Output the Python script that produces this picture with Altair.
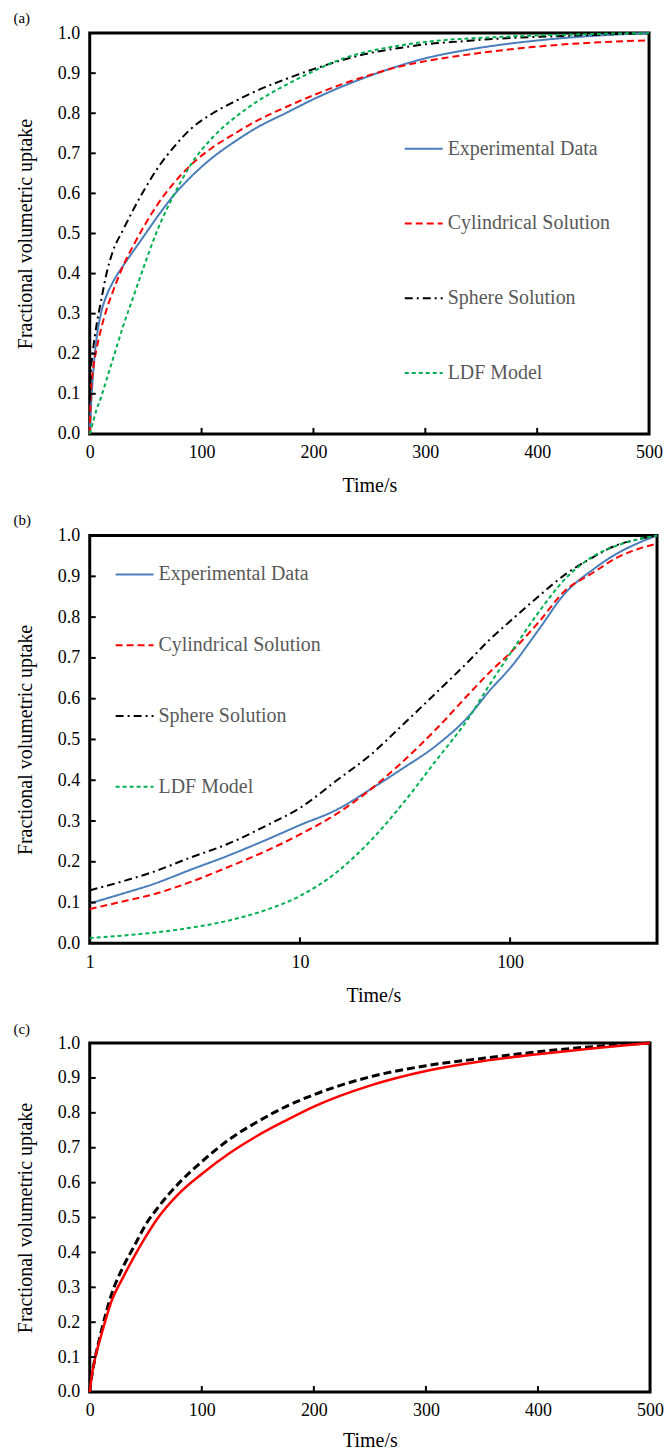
import altair as alt
import pandas as pd

FONT = "Liberation Serif"

SERIES = ["Experimental Data", "Cylindrical Solution", "Sphere Solution", "LDF Model"]
COLORS = ["#4A7EBB", "#FF0000", "#000000", "#00B050"]
DASHES = [[1, 0], [7, 4], [8, 4, 2, 4], [4, 3]]

# ---- panel (a): linear time axis ----
a_time = [0, 1, 3, 6, 10, 15, 20, 30, 40, 50, 60, 75, 90, 110, 130, 150, 175, 200,
          225, 250, 275, 300, 335, 365, 395, 425, 455, 500]
a_exp = [0, 0.06, 0.15, 0.235, 0.30, 0.345, 0.375, 0.42, 0.46, 0.50, 0.54, 0.595, 0.64, 0.69,
         0.73, 0.765, 0.80, 0.835, 0.866, 0.893, 0.917, 0.937, 0.957, 0.97, 0.98, 0.988, 0.994, 1.0]
a_cyl = [0, 0.1, 0.16, 0.21, 0.26, 0.31, 0.35, 0.42, 0.475, 0.525, 0.57, 0.625, 0.67, 0.715,
         0.75, 0.782, 0.815, 0.845, 0.872, 0.895, 0.915, 0.93, 0.945, 0.956, 0.965, 0.972, 0.977, 0.982]
a_sph = [0.08, 0.15, 0.21, 0.27, 0.33, 0.40, 0.45, 0.51, 0.565, 0.615, 0.66, 0.715, 0.76, 0.80,
         0.83, 0.857, 0.885, 0.91, 0.932, 0.95, 0.962, 0.972, 0.98, 0.986, 0.99, 0.993, 0.996, 1.0]
a_ldf = [0, 0.01, 0.03, 0.06, 0.09, 0.135, 0.18, 0.27, 0.35, 0.43, 0.505, 0.595, 0.67, 0.74,
         0.79, 0.83, 0.87, 0.905, 0.935, 0.955, 0.968, 0.978, 0.986, 0.99, 0.994, 0.996, 0.998, 1.0]

# ---- panel (b): log time axis ----
b_time = [1, 1.5, 2, 3, 4.5, 7, 10, 15, 22, 30, 45, 63, 80, 100, 138, 180, 250, 320, 400, 500]
b_exp = [0.098, 0.125, 0.145, 0.18, 0.214, 0.255, 0.29, 0.328, 0.38, 0.425, 0.487, 0.555,
         0.62, 0.675, 0.772, 0.855, 0.918, 0.955, 0.98, 1.0]
b_cyl = [0.084, 0.105, 0.12, 0.15, 0.186, 0.228, 0.267, 0.318, 0.38, 0.44, 0.528, 0.609,
         0.665, 0.712, 0.79, 0.862, 0.91, 0.945, 0.966, 0.98]
b_sph = [0.13, 0.155, 0.175, 0.21, 0.243, 0.29, 0.332, 0.40, 0.465, 0.53, 0.617, 0.69,
         0.745, 0.79, 0.853, 0.902, 0.948, 0.976, 0.99, 1.0]
b_ldf = [0.013, 0.02, 0.026, 0.038, 0.055, 0.083, 0.116, 0.175, 0.255, 0.335, 0.452, 0.55,
         0.635, 0.71, 0.815, 0.89, 0.95, 0.975, 0.99, 1.0]

# ---- panel (c) ----
c_time = [0, 2, 5, 10, 20, 30, 40, 50, 60, 80, 100, 125, 150, 175, 200, 250, 300, 350, 400, 450, 500]
c_red = [0, 0.05, 0.10, 0.16, 0.265, 0.33, 0.39, 0.445, 0.495, 0.57, 0.625, 0.685, 0.735,
         0.778, 0.818, 0.878, 0.92, 0.948, 0.968, 0.985, 1.0]
c_black = [0, 0.05, 0.10, 0.17, 0.285, 0.36, 0.42, 0.48, 0.525, 0.60, 0.66, 0.725, 0.775,
           0.818, 0.852, 0.903, 0.935, 0.956, 0.975, 0.99, 1.0]

Y_LABELS = [round(i * 0.1, 1) for i in range(11)]
Y_TICKS = [round(i * 0.1, 1) for i in range(1, 10)]
X_TICKS_LIN = [100, 200, 300, 400]
X_LABELS_LIN = [0, 100, 200, 300, 400, 500]
X_TICKS_LOG = [10, 100]
X_LABELS_LOG = [1, 10, 100]


def long_df(time, cols):
    rows = []
    for name, vals in zip(SERIES, cols):
        for t, v in zip(time, vals):
            rows.append({"t": t, "v": v, "series": name})
    return pd.DataFrame(rows)


def y_axis():
    return alt.Axis(values=Y_LABELS, format=".1f", tickSize=0, domain=False, grid=False,
                    labelFont=FONT, labelFontSize=18, labelColor="black", labelPadding=10,
                    title="Fractional volumetric uptake", titleFont=FONT, titleFontSize=20,
                    titleFontWeight="normal", titleColor="black", titlePadding=22)


def x_axis(values, tpad=14):
    return alt.Axis(values=values, format="d", tickSize=0, domain=False, grid=False,
                    labelFont=FONT, labelFontSize=18, labelColor="black", labelPadding=10,
                    labelFlush=False,
                    title="Time/s", titleFont=FONT, titleFontSize=20,
                    titleFontWeight="normal", titleColor="black", titlePadding=tpad)


Y_SCALE = alt.Scale(domain=[0, 1], nice=False)


def tick_layers(xscale, xaxis, xticks, h):
    yt = alt.Chart(pd.DataFrame({"v": Y_TICKS})).mark_rule(color="black", strokeWidth=2).encode(
        y=alt.Y("v:Q", scale=Y_SCALE, axis=y_axis()), x=alt.value(0), x2=alt.value(6))
    xt = alt.Chart(pd.DataFrame({"t": xticks})).mark_rule(color="black", strokeWidth=2).encode(
        x=alt.X("t:Q", scale=xscale, axis=xaxis), y=alt.value(h), y2=alt.value(h - 6))
    return [yt, xt]


def title(label, offset):
    return alt.TitleParams(label, anchor="start", frame="bounds", font=FONT, fontSize=15,
                           fontWeight="normal", color="black", baseline="bottom", offset=offset, dx=-2)


def model_panel(label, toff, time, cols, xscale, xlabels, xticks, w, h, lx, ly, rowpad):
    legend = alt.Legend(orient="none", legendX=lx, legendY=ly, title=None, symbolType="stroke",
                        symbolSize=1444, symbolStrokeWidth=2, labelFont=FONT, labelFontSize=20,
                        labelColor="#595959", labelOffset=4, rowPadding=rowpad, padding=0,
                        labelLimit=0)
    lines = alt.Chart(long_df(time, cols)).mark_line(interpolate="monotone", strokeWidth=2).encode(
        x=alt.X("t:Q", scale=xscale, axis=x_axis(xlabels)),
        y=alt.Y("v:Q", scale=Y_SCALE, axis=y_axis()),
        color=alt.Color("series:N", scale=alt.Scale(domain=SERIES, range=COLORS), legend=legend),
        strokeDash=alt.StrokeDash("series:N", scale=alt.Scale(domain=SERIES, range=DASHES), legend=legend),
    )
    return alt.layer(lines, *tick_layers(xscale, x_axis(xlabels), xticks, h)).properties(
        width=w, height=h, title=title(label, toff))


lin_scale = alt.Scale(domain=[0, 500], nice=False)
log_scale = alt.Scale(type="log", domain=[1, 500], nice=False)

pa = model_panel("(a)", -17, a_time, [a_exp, a_cyl, a_sph, a_ldf], lin_scale, X_LABELS_LIN,
                 X_TICKS_LIN, 561, 402, 315, 96, 45)
pb = model_panel("(b)", -16, b_time, [b_exp, b_cyl, b_sph, b_ldf], log_scale, X_LABELS_LOG,
                 X_TICKS_LOG, 569, 409, 25, 19, 41)

dfc_red = pd.DataFrame({"t": c_time, "v": c_red})
dfc_black = pd.DataFrame({"t": c_time, "v": c_black})
c_xaxis = x_axis(X_LABELS_LIN, 11)
c_black_line = alt.Chart(dfc_black).mark_line(interpolate="monotone", strokeWidth=3, color="black",
                                              strokeDash=[8, 4]).encode(
    x=alt.X("t:Q", scale=lin_scale, axis=c_xaxis),
    y=alt.Y("v:Q", scale=Y_SCALE, axis=y_axis()))
c_red_line = alt.Chart(dfc_red).mark_line(interpolate="monotone", strokeWidth=2.5, color="#FF0000").encode(
    x=alt.X("t:Q", scale=lin_scale, axis=c_xaxis),
    y=alt.Y("v:Q", scale=Y_SCALE, axis=y_axis()))
pc = alt.layer(c_black_line, c_red_line, *tick_layers(lin_scale, c_xaxis, X_TICKS_LIN, 350)).properties(
    width=562, height=350, title=title("(c)", -18))

chart = alt.vconcat(pa, pb, pc, spacing=13).resolve_scale(
    color="independent", strokeDash="independent").configure_view(
    stroke="black", strokeWidth=3).configure_legend(
    labelFont=FONT, labelFontSize=20, labelColor="#595959", labelLimit=0).properties(
    padding={"top": 7, "left": 12, "right": 0, "bottom": 0}, background="white")

chart.save("out.html", embed_options={"renderer": "svg", "actions": False})
